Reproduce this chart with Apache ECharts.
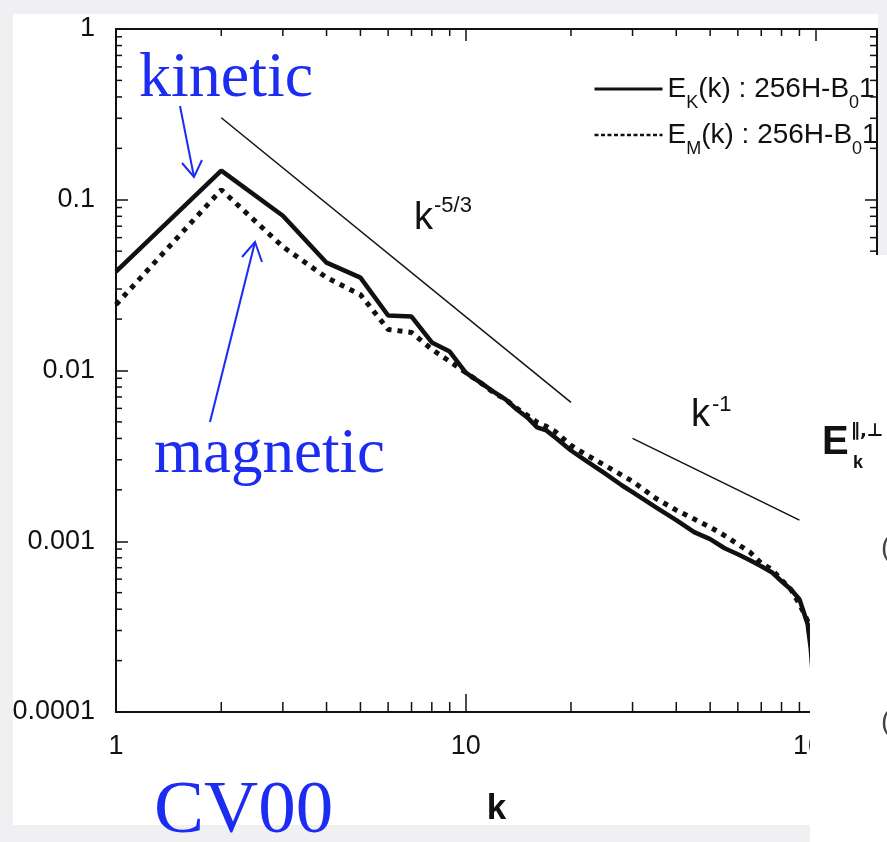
<!DOCTYPE html>
<html>
<head>
<meta charset="utf-8">
<title>CV00 spectra</title>
<script src="https://cdn.jsdelivr.net/npm/echarts/dist/echarts.min.js"></script>
<style>
  html, body { margin: 0; padding: 0; background: #f0f0f3; }
  #container { width: 887px; height: 842px; }
</style>
</head>
<body>
<div id="container"></div>
<script>
    // wavenumbers
    var kValues = [1, 2, 3, 4, 5, 6, 7, 8, 9, 10, 11, 12, 13, 14, 15, 16, 17, 18,
        20, 22, 25, 28, 30, 35, 40, 45, 50, 55, 60, 65, 70, 75, 80, 85, 90, 93, 95, 97, 98];
    // E_K(k), solid line
    var kineticE = [0.0379, 0.148, 0.0806, 0.0428, 0.0350, 0.0210, 0.0207, 0.0146, 0.0129, 0.00973,
        0.00851, 0.00753, 0.00677, 0.00591, 0.00531, 0.00464, 0.00446, 0.00406,
        0.00340, 0.00298, 0.00250, 0.00212, 0.00194, 0.00158, 0.00133, 0.00113, 0.00103,
        0.00091, 0.00084, 0.000775, 0.000714, 0.000659, 0.000583, 0.000524, 0.000458,
        0.000374, 0.000327, 0.000234, 0.000178];
    // E_M(k), dotted line
    var magneticE = [0.0243, 0.1144, 0.0531, 0.0350, 0.0278, 0.0174, 0.0167, 0.0133, 0.0113, 0.00973,
        0.00851, 0.00744, 0.00677, 0.00600, 0.00546, 0.00497, 0.00471, 0.00440,
        0.00364, 0.00323, 0.00278, 0.00243, 0.00224, 0.00178, 0.00152, 0.00135, 0.00121,
        0.00108, 0.00096, 0.000863, 0.000743, 0.000686, 0.000592, 0.000524, 0.000428,
        0.000374, 0.000341, 0.000260, 0.000199];
    // guide slopes
    var slope53 = [[2, 0.302], [20, 0.0065]];
    var slope1 = [[30, 0.004], [90, 0.00133]];

    var xTickLabels = ['1', '10', '100'];
    var yTickLabels = ['0.0001', '0.001', '0.01', '0.1', '1'];
    var xMinorTicks = [2, 3, 4, 5, 6, 7, 8, 9, 20, 30, 40, 50, 60, 70, 80, 90];
    var yMinorTicks = [0.0002, 0.0003, 0.0004, 0.0005, 0.0006, 0.0007, 0.0008, 0.0009,
        0.002, 0.003, 0.004, 0.005, 0.006, 0.007, 0.008, 0.009,
        0.02, 0.03, 0.04, 0.05, 0.06, 0.07, 0.08, 0.09,
        0.2, 0.3, 0.4, 0.5, 0.6, 0.7, 0.8, 0.9];
    var legendLabels = {
        kinetic: '{m|E}{s|K}{m|(k) : 256H-B}{s|0}{m|1}',
        magnetic: '{m|E}{s|M}{m|(k) : 256H-B}{s|0}{m|1}'
    };

    var SANS = 'Liberation Sans, Arial, sans-serif';
    var SERIF = 'Liberation Serif, Times New Roman, serif';
    var BLUE = '#1c2cf0';
    var INK = '#111';

    function pairs(xs, ys) {
        var out = [];
        for (var i = 0; i < xs.length; i++) {
            out.push([xs[i], ys[i]]);
        }
        return out;
    }

    var myChart = echarts.init(document.getElementById('container'));

    var option = {
        backgroundColor: '#f0f0f3',
        animation: false,
        grid: { left: 116, top: 29, right: 10, bottom: 130 },
        legend: {
            orient: 'vertical',
            left: 593,
            top: 66,
            padding: 0,
            itemWidth: 68,
            itemHeight: 20,
            itemGap: 0,
            data: [
                { name: 'kinetic', itemStyle: { opacity: 0 }, lineStyle: { width: 3, type: 'solid', color: INK } },
                { name: 'magnetic', itemStyle: { opacity: 0 }, lineStyle: { width: 2.5, type: [4, 2.5], color: INK } }
            ],
            formatter: function (name) { return legendLabels[name]; },
            textStyle: {
                color: INK,
                fontFamily: SANS,
                rich: {
                    m: { fontSize: 28, lineHeight: 28, fontFamily: SANS, color: INK },
                    s: { fontSize: 18, lineHeight: 18, fontFamily: SANS, color: INK, padding: [28, 0, 0, 0] }
                }
            }
        },
        xAxis: [{
            type: 'log',
            logBase: 10,
            min: 1,
            max: 150,
            position: 'bottom',
            name: 'k',
            nameLocation: 'middle',
            nameGap: 80,
            nameTextStyle: { fontFamily: SANS, fontSize: 35, fontWeight: 'bold', color: INK },
            axisLine: { show: true, lineStyle: { color: INK, width: 2 } },
            axisTick: { show: true, inside: true, length: 18, lineStyle: { color: INK, width: 1.5 } },
            axisLabel: {
                margin: 21, fontFamily: SANS, fontSize: 27, color: INK,
                formatter: function (v, i) { return xTickLabels[i] || ''; }
            },
            splitLine: { show: false }
        }, {
            type: 'log',
            logBase: 10,
            min: 1,
            max: 150,
            position: 'top',
            axisLine: { show: true, lineStyle: { color: INK, width: 2 } },
            axisTick: { show: true, inside: true, length: 12, lineStyle: { color: INK, width: 1.5 } },
            axisLabel: { show: false },
            splitLine: { show: false }
        }],
        yAxis: [{
            type: 'log',
            logBase: 10,
            min: 0.0001,
            max: 1,
            position: 'left',
            axisLine: { show: true, lineStyle: { color: INK, width: 2 } },
            axisTick: { show: true, inside: true, length: 12, lineStyle: { color: INK, width: 1.5 } },
            axisLabel: {
                margin: 21, fontFamily: SANS, fontSize: 27, color: INK,
                formatter: function (v, i) { return yTickLabels[i] || ''; }
            },
            splitLine: { show: false }
        }, {
            type: 'log',
            logBase: 10,
            min: 0.0001,
            max: 1,
            position: 'right',
            axisLine: { show: true, lineStyle: { color: INK, width: 2 } },
            axisTick: { show: true, inside: true, length: 12, lineStyle: { color: INK, width: 1.5 } },
            axisLabel: { show: false },
            splitLine: { show: false }
        }],
        series: [{
            name: 'kinetic',
            type: 'line',
            data: pairs(kValues, kineticE),
            symbol: 'none',
            itemStyle: { color: INK },
            lineStyle: { color: INK, width: 4.5 },
            z: 5
        }, {
            name: 'magnetic',
            type: 'line',
            data: pairs(kValues, magneticE),
            symbol: 'none',
            itemStyle: { color: INK },
            lineStyle: { color: INK, width: 5, type: [5, 6], cap: 'butt' },
            z: 4
        }, {
            name: 'k-5/3',
            type: 'line',
            data: slope53,
            symbol: 'none',
            lineStyle: { color: INK, width: 1.5 }
        }, {
            name: 'k-1',
            type: 'line',
            data: slope1,
            symbol: 'none',
            lineStyle: { color: INK, width: 1.5 }
        }, {
            // minor ticks on bottom / top frame
            type: 'custom',
            silent: true,
            clip: false,
            data: xMinorTicks.map(function (v) { return [v, 1]; }),
            renderItem: function (params, api) {
                var p = api.coord([api.value(0), 1]);
                var cs = params.coordSys;
                var bottom = cs.y + cs.height;
                return {
                    type: 'group',
                    children: [
                        { type: 'line', shape: { x1: p[0], y1: bottom, x2: p[0], y2: bottom - 10 }, style: { stroke: INK, lineWidth: 1.5 } },
                        { type: 'line', shape: { x1: p[0], y1: cs.y, x2: p[0], y2: cs.y + 7 }, style: { stroke: INK, lineWidth: 1.5 } }
                    ]
                };
            }
        }, {
            // minor ticks on left / right frame
            type: 'custom',
            silent: true,
            clip: false,
            data: yMinorTicks.map(function (v) { return [1, v]; }),
            renderItem: function (params, api) {
                var p = api.coord([1, api.value(1)]);
                var cs = params.coordSys;
                var right = cs.x + cs.width;
                return {
                    type: 'group',
                    children: [
                        { type: 'line', shape: { x1: cs.x, y1: p[1], x2: cs.x + 6, y2: p[1] }, style: { stroke: INK, lineWidth: 1.5 } },
                        { type: 'line', shape: { x1: right, y1: p[1], x2: right - 7, y2: p[1] }, style: { stroke: INK, lineWidth: 1.5 } }
                    ]
                };
            }
        }],
        graphic: [
            // white figure panel behind the plot
            { type: 'rect', z: -100, silent: true, shape: { x: 13, y: 14, width: 865, height: 811 }, style: { fill: '#ffffff' } },
            // neighbouring panel that covers the right edge
            { type: 'rect', z: 100, silent: true, shape: { x: 810, y: 255, width: 77, height: 587 }, style: { fill: '#ffffff' } },
            { type: 'rect', z: 100, silent: true, shape: { x: 878, y: 0, width: 9, height: 255 }, style: { fill: '#f0f0f3' } },
            { type: 'text', z: 101, style: { text: 'E', x: 822, y: 443, fill: INK, font: 'bold 40px ' + SANS, align: 'left', verticalAlign: 'middle' } },
            { type: 'text', z: 101, style: { text: '\u2225,\u22a5', x: 851, y: 431, fill: INK, font: 'bold 18px DejaVu Sans', align: 'left', verticalAlign: 'middle' } },
            { type: 'text', z: 101, style: { text: 'k', x: 853, y: 463, fill: INK, font: 'bold 18px ' + SANS, align: 'left', verticalAlign: 'middle' } },
            { type: 'text', z: 101, style: { text: '(', x: 881, y: 548, fill: '#444', font: '28px ' + SANS, align: 'left', verticalAlign: 'middle' } },
            { type: 'text', z: 101, style: { text: '(', x: 881, y: 722, fill: '#444', font: '28px ' + SANS, align: 'left', verticalAlign: 'middle' } },
            // slope labels
            { type: 'text', z: 20, style: { text: 'k', x: 414, y: 219, fill: INK, font: '38px ' + SANS, align: 'left', verticalAlign: 'middle' } },
            { type: 'text', z: 20, style: { text: '-5/3', x: 434, y: 206, fill: INK, font: '22px ' + SANS, align: 'left', verticalAlign: 'middle' } },
            { type: 'text', z: 20, style: { text: 'k', x: 691, y: 416, fill: INK, font: '38px ' + SANS, align: 'left', verticalAlign: 'middle' } },
            { type: 'text', z: 20, style: { text: '-1', x: 712, y: 405, fill: INK, font: '22px ' + SANS, align: 'left', verticalAlign: 'middle' } },
            // blue annotations
            { type: 'text', z: 20, style: { text: 'kinetic', x: 139, y: 79, fill: BLUE, font: '64px ' + SERIF, align: 'left', verticalAlign: 'middle' } },
            { type: 'text', z: 20, style: { text: 'magnetic', x: 154, y: 455, fill: BLUE, font: '63px ' + SERIF, align: 'left', verticalAlign: 'middle' } },
            { type: 'text', z: 101, style: { text: 'CV00', x: 154, y: 812, fill: BLUE, font: '75px ' + SERIF, align: 'left', verticalAlign: 'middle' } },
            { type: 'polyline', z: 20, shape: { points: [[180, 106], [194, 177]] }, style: { stroke: BLUE, lineWidth: 2, fill: null } },
            { type: 'polyline', z: 20, shape: { points: [[182, 163], [194, 177], [202, 160]] }, style: { stroke: BLUE, lineWidth: 2, fill: null } },
            { type: 'polyline', z: 20, shape: { points: [[210, 422], [255, 242]] }, style: { stroke: BLUE, lineWidth: 2, fill: null } },
            { type: 'polyline', z: 20, shape: { points: [[242, 257], [255, 242], [262, 262]] }, style: { stroke: BLUE, lineWidth: 2, fill: null } }
        ]
    };

    myChart.setOption(option);
</script>
</body>
</html>
